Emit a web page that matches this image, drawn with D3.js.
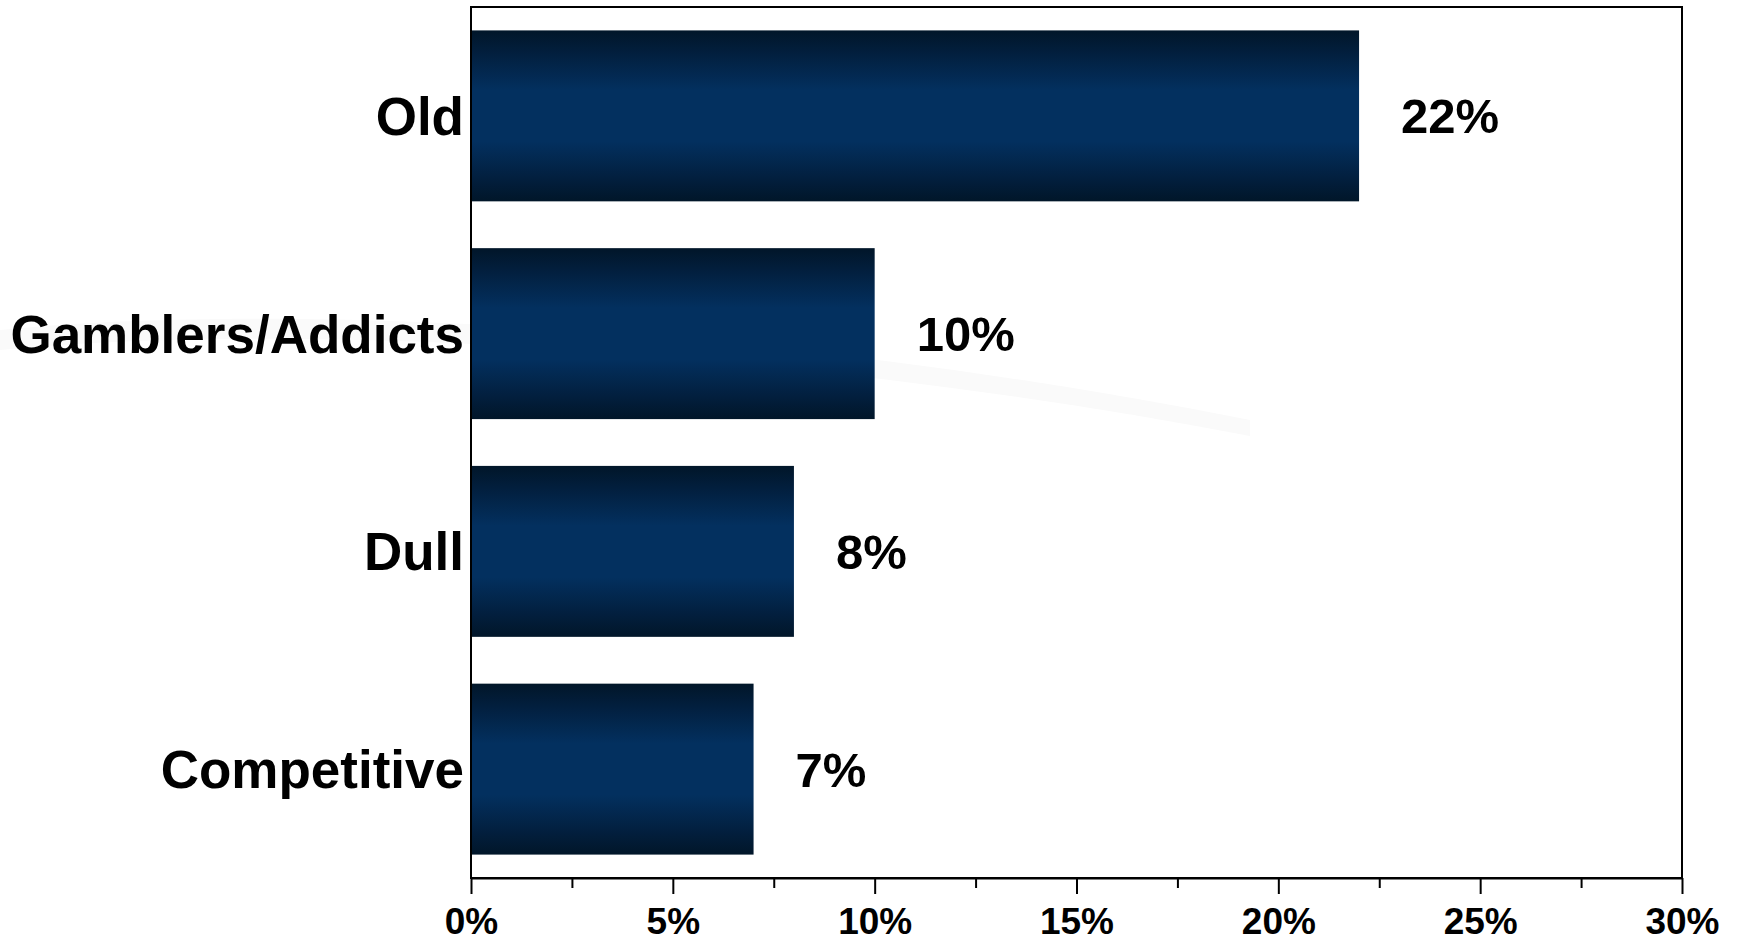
<!DOCTYPE html>
<html>
<head>
<meta charset="utf-8">
<script src="https://cdn.jsdelivr.net/npm/d3@7"></script>
<style>
  html, body { margin: 0; padding: 0; background: #ffffff; }
  svg { display: block; }
  text { font-family: "Liberation Sans", Arial, sans-serif; font-weight: bold; fill: #000; }
</style>
</head>
<body>
<svg id="chart" width="1740" height="941"></svg>
<script>
const categories = ["Old", "Gamblers/Addicts", "Dull", "Competitive"];
const values = [22, 10, 8, 7];
const valueLabels = ["22%", "10%", "8%", "7%"];
const majorTicks = [0, 5, 10, 15, 20, 25, 30];
const tickLabels = ["0%", "5%", "10%", "15%", "20%", "25%", "30%"];
const minorTicks = [2.5, 7.5, 12.5, 17.5, 22.5, 27.5];

(function () {
const svg = d3.select("#chart");
const pLeft = 471, pRight = 1682, pTop = 7, pBottom = 878;

// very faint background swoosh
const bg = svg.append("g");
bg.append("path").attr("d", "M0,330 C300,300 800,330 1250,420 L1250,436 C800,350 300,320 0,350 Z").attr("fill", "#fafafa");

const defs = svg.append("defs");
const grad = defs.append("linearGradient").attr("id", "barGrad").attr("x1", 0).attr("y1", 0).attr("x2", 0).attr("y2", 1);
[[0, "#011629"], [0.12, "#021e3c"], [0.35, "#03305f"], [0.65, "#03305f"], [0.88, "#021e3c"], [1, "#011629"]]
  .forEach(([o, c]) => grad.append("stop").attr("offset", o).attr("stop-color", c));

const x = d3.scaleLinear().domain([0, 30]).range([pLeft, pRight]);
const y = d3.scaleBand().domain(categories).range([pTop, pBottom]).paddingInner(0.215).paddingOuter(0.1075);

// bars
svg.append("g").selectAll("rect").data(categories).join("rect")
  .attr("x", x(0))
  .attr("y", d => y(d))
  .attr("width", (d, i) => x(values[i]) - x(0))
  .attr("height", y.bandwidth())
  .attr("fill", "url(#barGrad)");

// frame
svg.append("rect").attr("x", pLeft).attr("y", pTop).attr("width", pRight - pLeft).attr("height", pBottom - pTop)
  .attr("fill", "none").attr("stroke", "#000").attr("stroke-width", 2);

// x axis major
const axisG = svg.append("g").attr("transform", `translate(0,${pBottom})`)
  .call(d3.axisBottom(x).tickValues(majorTicks).tickSize(16).tickSizeOuter(0)
    .tickFormat((d, i) => tickLabels[i]));
axisG.select(".domain").attr("stroke", "#000").attr("stroke-width", 2);
axisG.selectAll(".tick line").attr("stroke", "#000").attr("stroke-width", 2);
axisG.selectAll(".tick text").attr("font-size", 37).attr("font-family", "Liberation Sans, Arial, sans-serif")
  .attr("font-weight", "bold").attr("fill", "#000").attr("dy", null).attr("y", 56);

// minor ticks
const minorG = svg.append("g").attr("transform", `translate(0,${pBottom})`)
  .call(d3.axisBottom(x).tickValues(minorTicks).tickSize(10).tickFormat(""));
minorG.select(".domain").remove();
minorG.selectAll(".tick line").attr("stroke", "#000").attr("stroke-width", 2);

// category labels
const catFs = 53;
svg.append("g").selectAll("text").data(categories).join("text")
  .attr("x", pLeft - 7)
  .attr("y", d => y(d) + y.bandwidth() / 2 + catFs * 0.358)
  .attr("text-anchor", "end")
  .attr("font-size", catFs)
  .text(d => d);

// value labels
const valFs = 49;
svg.append("g").selectAll("text").data(categories).join("text")
  .attr("x", (d, i) => x(values[i]) + 42)
  .attr("y", d => y(d) + y.bandwidth() / 2 + valFs * 0.358)
  .attr("text-anchor", "start")
  .attr("font-size", valFs)
  .text((d, i) => valueLabels[i]);
})();
</script>
</body>
</html>
